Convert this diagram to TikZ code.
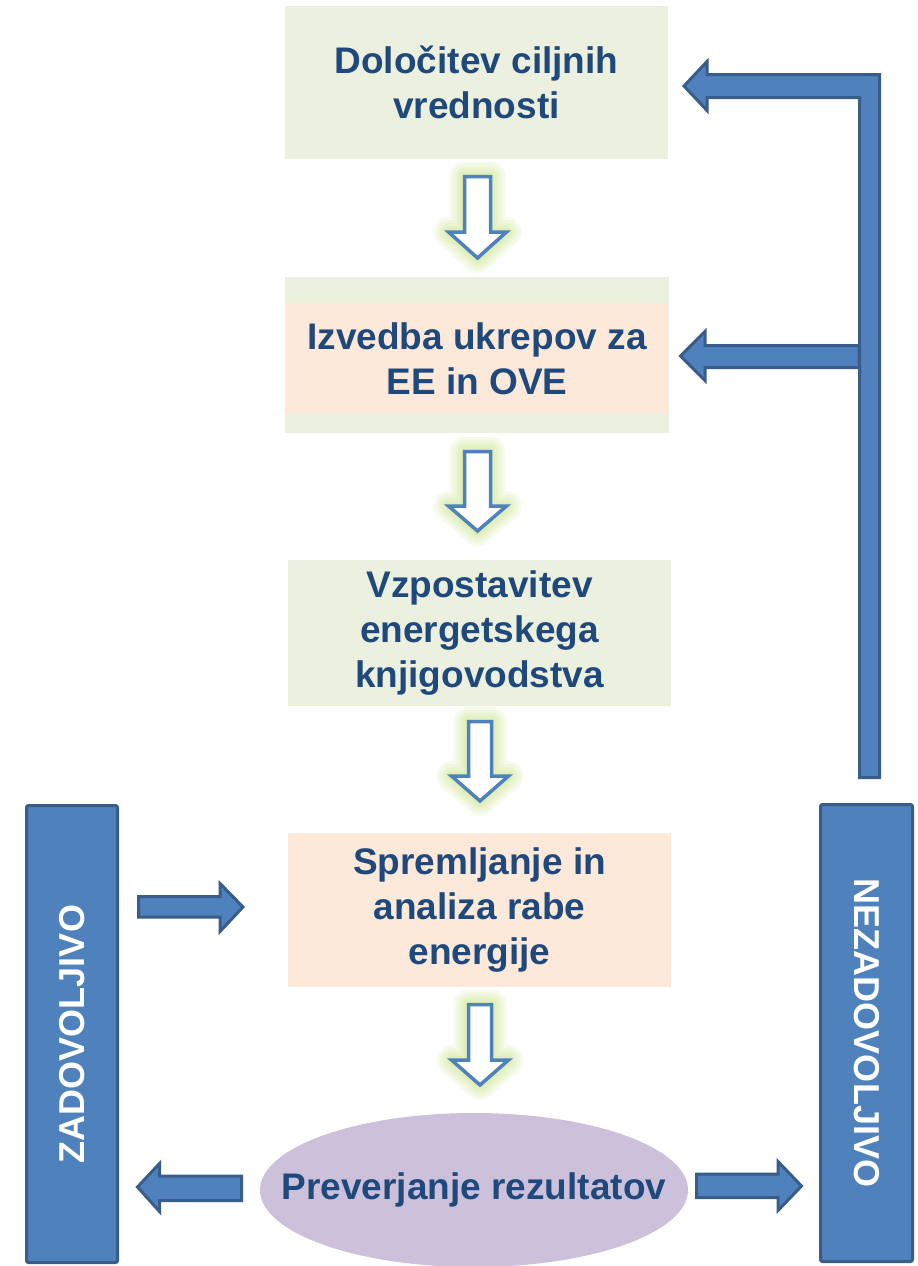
\documentclass[tikz,border=0pt]{standalone}
\usepackage{fontspec}
\setmainfont{Liberation Sans}
\usetikzlibrary{shapes.geometric}
\definecolor{boxgreen}{HTML}{EBF1DE}
\definecolor{boxpeach}{HTML}{FDE9D9}
\definecolor{ovalpurple}{HTML}{CCC0DA}
\definecolor{blockblue}{HTML}{4F81BD}
\definecolor{blockedge}{HTML}{385D8A}
\definecolor{textblue}{HTML}{1F497D}
\definecolor{glowgreen}{HTML}{C2E27A}
\tikzset{
  stepbox/.style={rectangle, inner sep=0pt, outer sep=0pt, align=center,
    text=textblue, font=\fontsize{37}{45}\selectfont\bfseries},
  sidebar/.style={rectangle, rounded corners=2pt, inner sep=0pt, fill=blockblue,
    draw=blockedge, line width=3pt, text=white,
    font=\fontsize{36}{40}\selectfont\bfseries},
  blockarrow/.style={fill=blockblue, draw=blockedge, line width=3pt, line join=miter},
  glowlayer/.style={draw=glowgreen, line join=round, opacity=0.13},
  hollow/.style={fill=white, draw=blockblue, line width=3.5pt, line join=miter}
}
% cx, top, head y, tip y, half shaft, half head
\newcommand{\glowdownarrow}[6]{%
  \foreach \gw in {30,24,18,13,8}{%
    \path[glowlayer, line width=\gw pt] (#1-#5,#2) -- (#1+#5,#2) -- (#1+#5,#3) -- (#1+#6,#3) -- (#1,#4)
      -- (#1-#6,#3) -- (#1-#5,#3) -- cycle;}
  \path[hollow] (#1-#5,#2) -- (#1+#5,#2) -- (#1+#5,#3) -- (#1+#6,#3) -- (#1,#4)
      -- (#1-#6,#3) -- (#1-#5,#3) -- cycle;
}
\begin{document}
\begin{tikzpicture}[x=1pt,y=-1pt]
\useasboundingbox (0,0) rectangle (918,1266);
\fill[white] (0,0) rectangle (918,1266);

% step boxes
\node[stepbox, fill=boxgreen, minimum width=383pt, minimum height=153pt] (b1)
  at (476.5,82) {Določitev ciljnih\\vrednosti};
\node[stepbox, fill=boxgreen, minimum width=384pt, minimum height=156pt] (b2bg)
  at (477,355) {};
\fill[boxpeach] (285,303) rectangle (669,413);
\node[stepbox] (b2) at (477,359) {Izvedba ukrepov za\\EE in OVE};
\node[stepbox, fill=boxgreen, minimum width=383pt, minimum height=146pt] (b3)
  at (479.5,633) {Vzpostavitev\\energetskega\\knjigovodstva};
\node[stepbox, fill=boxpeach, minimum width=383pt, minimum height=154pt] (b4)
  at (479.5,910) {Spremljanje in\\analiza rabe\\energije};
\node[ellipse, fill=ovalpurple, inner sep=0pt, minimum width=428pt, minimum height=154pt]
  (b5) at (474,1190) {};
\node[stepbox] (b5t) at (b5.center) {Preverjanje rezultatov};

% hollow glowing down arrows
\glowdownarrow{477.5}{176.5}{232}{258}{13}{29}
\glowdownarrow{477.5}{451.5}{506}{531}{13}{29}
\glowdownarrow{480}{721.5}{776}{801}{11.5}{28.5}
\glowdownarrow{480}{1004.5}{1060}{1085}{11.5}{28.5}

% side bars
\node[sidebar, minimum width=91pt, minimum height=457pt] (zad) at (72,1034) {};
\node[rotate=90, text=white, font=\fontsize{36}{40}\selectfont\bfseries] (zadt)
  at (zad.center) {ZADOVOLJIVO};
\node[sidebar, minimum width=92pt, minimum height=457pt] (nez) at (866.5,1033) {};
\node[rotate=-90, text=white, font=\fontsize{36}{40}\selectfont\bfseries] (nezt)
  at (nez.center) {NEZADOVOLJIVO};

% feedback arrows on the right
\path[blockarrow] (680.5,356) -- (705,331.5) -- (705,345.5) -- (859,345.5)
  -- (859,367.5) -- (705,367.5) -- (705,380.5) -- cycle;
\path[blockarrow] (684,86) -- (707,61.5) -- (707,74.5) -- (879.5,74.5)
  -- (879.5,777.5) -- (859.5,777.5) -- (859.5,97.5) -- (707,97.5) -- (707,110.5) -- cycle;

% arrow from ZADOVOLJIVO to monitoring
\path[blockarrow] (138.5,896.5) -- (220,896.5) -- (220,883.5) -- (243,907)
  -- (220,931.5) -- (220,917) -- (138.5,917) -- cycle;
% arrows from the check
\path[blockarrow] (137.5,1187) -- (159.5,1163.5) -- (159.5,1176) -- (241.5,1176)
  -- (241.5,1200.5) -- (159.5,1200.5) -- (159.5,1211.5) -- cycle;
\path[blockarrow] (696.5,1174) -- (778,1174) -- (778,1161.5) -- (801.5,1186)
  -- (778,1210.5) -- (778,1197.5) -- (696.5,1197.5) -- cycle;
\end{tikzpicture}
\end{document}
